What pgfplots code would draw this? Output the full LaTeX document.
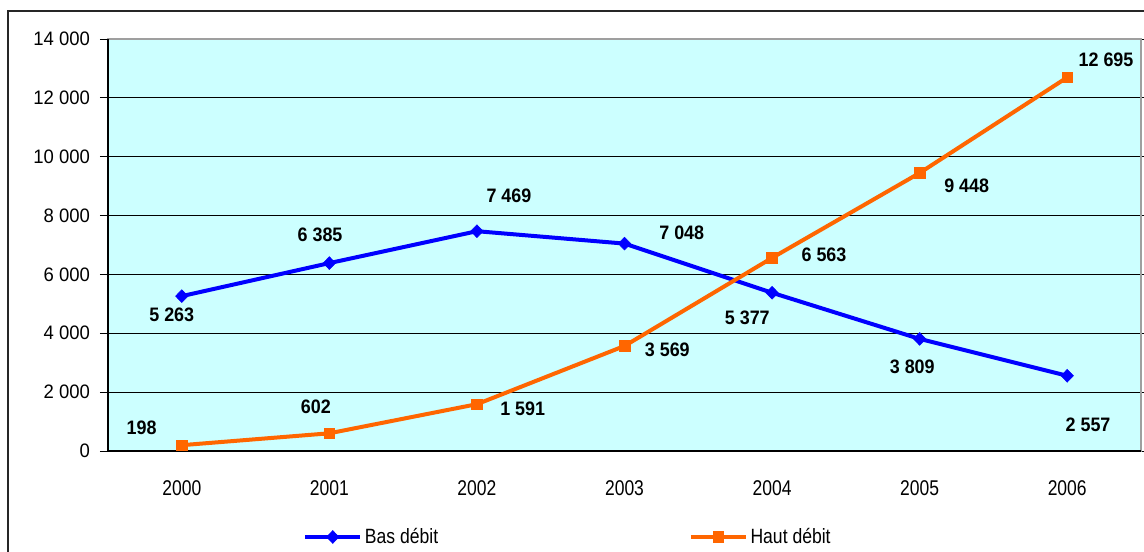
\documentclass[border=0pt]{standalone}
\usepackage{fontspec}
\setmainfont{Liberation Sans}[FakeStretch=0.82]
\newfontfamily\tickfont{Liberation Sans}[FakeStretch=0.95]
\newfontfamily\labelfont{Liberation Sans}[FakeStretch=0.92]
\newfontfamily\legendfont{Liberation Sans}[FakeStretch=0.85]
\usepackage{pgfplots}
\pgfplotsset{compat=1.18}
\definecolor{bgcyan}{HTML}{CCFFFF}
\definecolor{basblue}{HTML}{0000FF}
\definecolor{hautorange}{HTML}{FF6600}
\begin{document}
\begin{tikzpicture}
\useasboundingbox (0,0) rectangle (858pt,413.25pt);
\fill[white] (0,0) rectangle (858pt,413.25pt);
\draw[line width=1.1pt, black!85] (6pt,-20pt) rectangle (880pt,405pt);
\begin{axis}[
  at={(81pt,75pt)}, anchor=south west,
  scale only axis, width=774.75pt, height=309pt,
  xmin=-0.5, xmax=6.5, ymin=0, ymax=14000,
  axis background/.style={fill=bgcyan},
  axis line style={draw=gray!75, line width=1pt},
  xtick={0,...,6}, xticklabels={2000,2001,2002,2003,2004,2005,2006},
  xtick style={draw=none},
  minor xtick={-0.5,0.5,...,6.5},
  ytick={0,2000,...,14000},
  ymajorgrids, major grid style={black, line width=0.75pt},
  tick align=outside, major tick length=6pt, minor tick length=6pt,
  tick style={black, line width=0.75pt},
  minor tick style={black, line width=0.75pt},
  scaled y ticks=false,
  /pgf/number format/1000 sep={\ },
  /pgf/number format/assume math mode=true,
  yticklabel style={font=\tickfont\fontsize{14.6}{16}\selectfont, anchor=east, xshift=-4pt},
  xticklabel style={font=\fontsize{16}{18}\selectfont, yshift=-12.5pt},
  clip=false,
  legend columns=2,
  legend style={at={(0.1888,-0.2087)}, anchor=west, draw=none, fill=none, inner sep=0pt,
    font=\legendfont\fontsize{15.5}{17}\selectfont,
    /tikz/every even column/.append style={column sep=186pt}},
  legend image code/.code={\draw[mark repeat=2,mark phase=2,#1] plot coordinates {(0pt,0pt) (20.6pt,0pt) (41.25pt,0pt)};},
]
\addplot[basblue, line width=3pt, mark=diamond*, mark size=4.8pt, mark options={solid, line width=0.4pt, xscale=1.3}]
  coordinates {(0,5263) (1,6385) (2,7469) (3,7048) (4,5377) (5,3809) (6,2557)};
\addlegendentry{Bas débit}
\addplot[hautorange, line width=3pt, mark=square*, mark size=4pt, mark options={solid, line width=0.4pt}]
  coordinates {(0,198) (1,602) (2,1591) (3,3569) (4,6563) (5,9448) (6,12695)};
\addlegendentry{Haut débit}
\draw[black, line width=1pt] (rel axis cs:0,1) -- (rel axis cs:0,0) -- (rel axis cs:1,0);
\begin{scope}[every node/.style={font=\labelfont\bfseries\fontsize{14.6}{17}\selectfont}]
\node at (axis cs:-0.068,4621) {5 263};
\node at (axis cs:0.937,7340) {6 385};
\node at (axis cs:2.217,8675) {7 469};
\node at (axis cs:3.388,7417) {7 048};
\node at (axis cs:3.832,4509) {5 377};
\node at (axis cs:4.950,2844) {3 809};
\node at (axis cs:6.141,883) {2 557};
\node at (axis cs:-0.272,782) {198};
\node at (axis cs:0.909,1505) {602};
\node at (axis cs:2.310,1427) {1 591};
\node at (axis cs:3.290,3432) {3 569};
\node at (axis cs:4.352,6660) {6 563};
\node at (axis cs:5.319,9005) {9 448};
\node at (axis cs:6.263,13310) {12 695};
\end{scope}
\end{axis}
\end{tikzpicture}
\end{document}
